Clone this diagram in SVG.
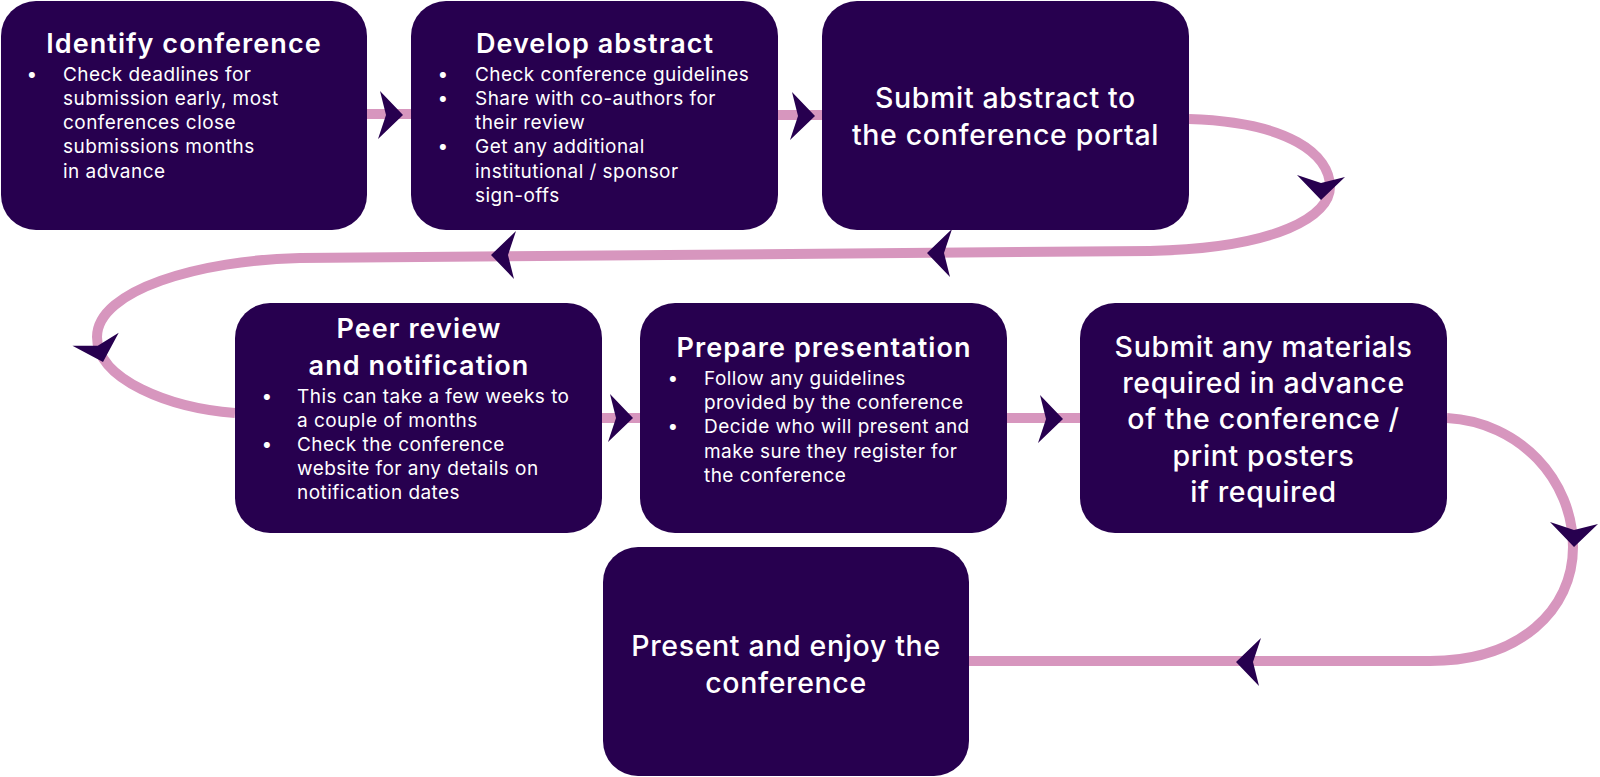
<svg xmlns="http://www.w3.org/2000/svg" xmlns:xlink="http://www.w3.org/1999/xlink" width="1600" height="777" viewBox="0 0 1600 777">
<style>
.box{fill:#27004F}
.t{font-family:Inter,"Open Sans","Liberation Sans",sans-serif;fill:#ffffff}
.h{font-size:27px;font-weight:600;text-anchor:middle;letter-spacing:1.05px}
.b{font-size:19px;font-weight:400;letter-spacing:0.45px}
.m{font-size:28.5px;font-weight:500;text-anchor:middle;letter-spacing:0.65px}
.ln{fill:none;stroke:#D796BE;stroke-width:10}
.ar{fill:#27004F}
</style>
<defs>
<path id="chev" d="M0,0 L-23,-24 L-17,0 L-25,24 Z"/>
</defs>
<rect width="1600" height="777" fill="#ffffff"/>
<g id="connectors">
<path class="ln" d="M367,114 L411,114"/>
<path class="ln" d="M778,115 L822,115"/>
<path class="ln" d="M1189,119 C1290,122 1330,155 1330,187 C1330,215 1280,248 1150,251 L300,258 C200,260 97,290 97,337 C97,380 170,408 235,413"/>
<path class="ln" d="M602,418 L640,418"/>
<path class="ln" d="M1007,418 L1080,418"/>
<path class="ln" d="M1447,418 C1520,422 1573,480 1573,547 C1573,610 1520,661 1430,661 L969,661"/>
<use class="ar" xlink:href="#chev" transform="translate(403,115)"/>
<use class="ar" xlink:href="#chev" transform="translate(815,116)"/>
<use class="ar" xlink:href="#chev" transform="translate(1321,200) rotate(90)"/>
<use class="ar" xlink:href="#chev" transform="translate(927,253) rotate(180)"/>
<use class="ar" xlink:href="#chev" transform="translate(491,255) rotate(180)"/>
<use class="ar" xlink:href="#chev" transform="translate(103,362) rotate(72)"/>
<use class="ar" xlink:href="#chev" transform="translate(633,418)"/>
<use class="ar" xlink:href="#chev" transform="translate(1063,419)"/>
<use class="ar" xlink:href="#chev" transform="translate(1574,547) rotate(90)"/>
<use class="ar" xlink:href="#chev" transform="translate(1236,662) rotate(180)"/>
</g>
<g id="node1">
<rect class="box" x="1" y="1" width="366" height="229" rx="35"/>
<text class="t h" x="184" y="53">Identify conference</text>
<text class="t b" x="32" y="81" text-anchor="middle">•</text>
<text class="t b" x="63" y="81">Check deadlines for</text>
<text class="t b" x="63" y="105">submission early, most</text>
<text class="t b" x="63" y="129">conferences close</text>
<text class="t b" x="63" y="153">submissions months</text>
<text class="t b" x="63" y="178">in advance</text>
</g>
<g id="node2">
<rect class="box" x="411" y="1" width="367" height="229" rx="35"/>
<text class="t h" x="595" y="53">Develop abstract</text>
<text class="t b" x="443" y="81" text-anchor="middle">•</text>
<text class="t b" x="475" y="81">Check conference guidelines</text>
<text class="t b" x="443" y="105" text-anchor="middle">•</text>
<text class="t b" x="475" y="105">Share with co-authors for</text>
<text class="t b" x="475" y="129">their review</text>
<text class="t b" x="443" y="153" text-anchor="middle">•</text>
<text class="t b" x="475" y="153">Get any additional</text>
<text class="t b" x="475" y="178">institutional / sponsor</text>
<text class="t b" x="475" y="202">sign-offs</text>
</g>
<g id="node3">
<rect class="box" x="822" y="1" width="367" height="229" rx="35"/>
<text class="t m" x="1005.5" y="108">Submit abstract to</text>
<text class="t m" x="1005.5" y="145">the conference portal</text>
</g>
<g id="node4">
<rect class="box" x="235" y="303" width="367" height="230" rx="35"/>
<text class="t h" x="419" y="338">Peer review</text>
<text class="t h" x="419" y="375">and notification</text>
<text class="t b" x="267" y="403" text-anchor="middle">•</text>
<text class="t b" x="297" y="403">This can take a few weeks to</text>
<text class="t b" x="297" y="427">a couple of months</text>
<text class="t b" x="267" y="451" text-anchor="middle">•</text>
<text class="t b" x="297" y="451">Check the conference</text>
<text class="t b" x="297" y="475">website for any details on</text>
<text class="t b" x="297" y="499">notification dates</text>
</g>
<g id="node5">
<rect class="box" x="640" y="303" width="367" height="230" rx="35"/>
<text class="t h" x="824" y="357">Prepare presentation</text>
<text class="t b" x="673" y="385" text-anchor="middle">•</text>
<text class="t b" x="704" y="385">Follow any guidelines</text>
<text class="t b" x="704" y="409">provided by the conference</text>
<text class="t b" x="673" y="433" text-anchor="middle">•</text>
<text class="t b" x="704" y="433">Decide who will present and</text>
<text class="t b" x="704" y="458">make sure they register for</text>
<text class="t b" x="704" y="482">the conference</text>
</g>
<g id="node6">
<rect class="box" x="1080" y="303" width="367" height="230" rx="35"/>
<text class="t m" x="1263.5" y="357">Submit any materials</text>
<text class="t m" x="1263.5" y="393">required in advance</text>
<text class="t m" x="1263.5" y="429">of the conference /</text>
<text class="t m" x="1263.5" y="466">print posters</text>
<text class="t m" x="1263.5" y="502">if required</text>
</g>
<g id="node7">
<rect class="box" x="603" y="547" width="366" height="229" rx="35"/>
<text class="t m" x="786" y="656">Present and enjoy the</text>
<text class="t m" x="786" y="693">conference</text>
</g>
</svg>
